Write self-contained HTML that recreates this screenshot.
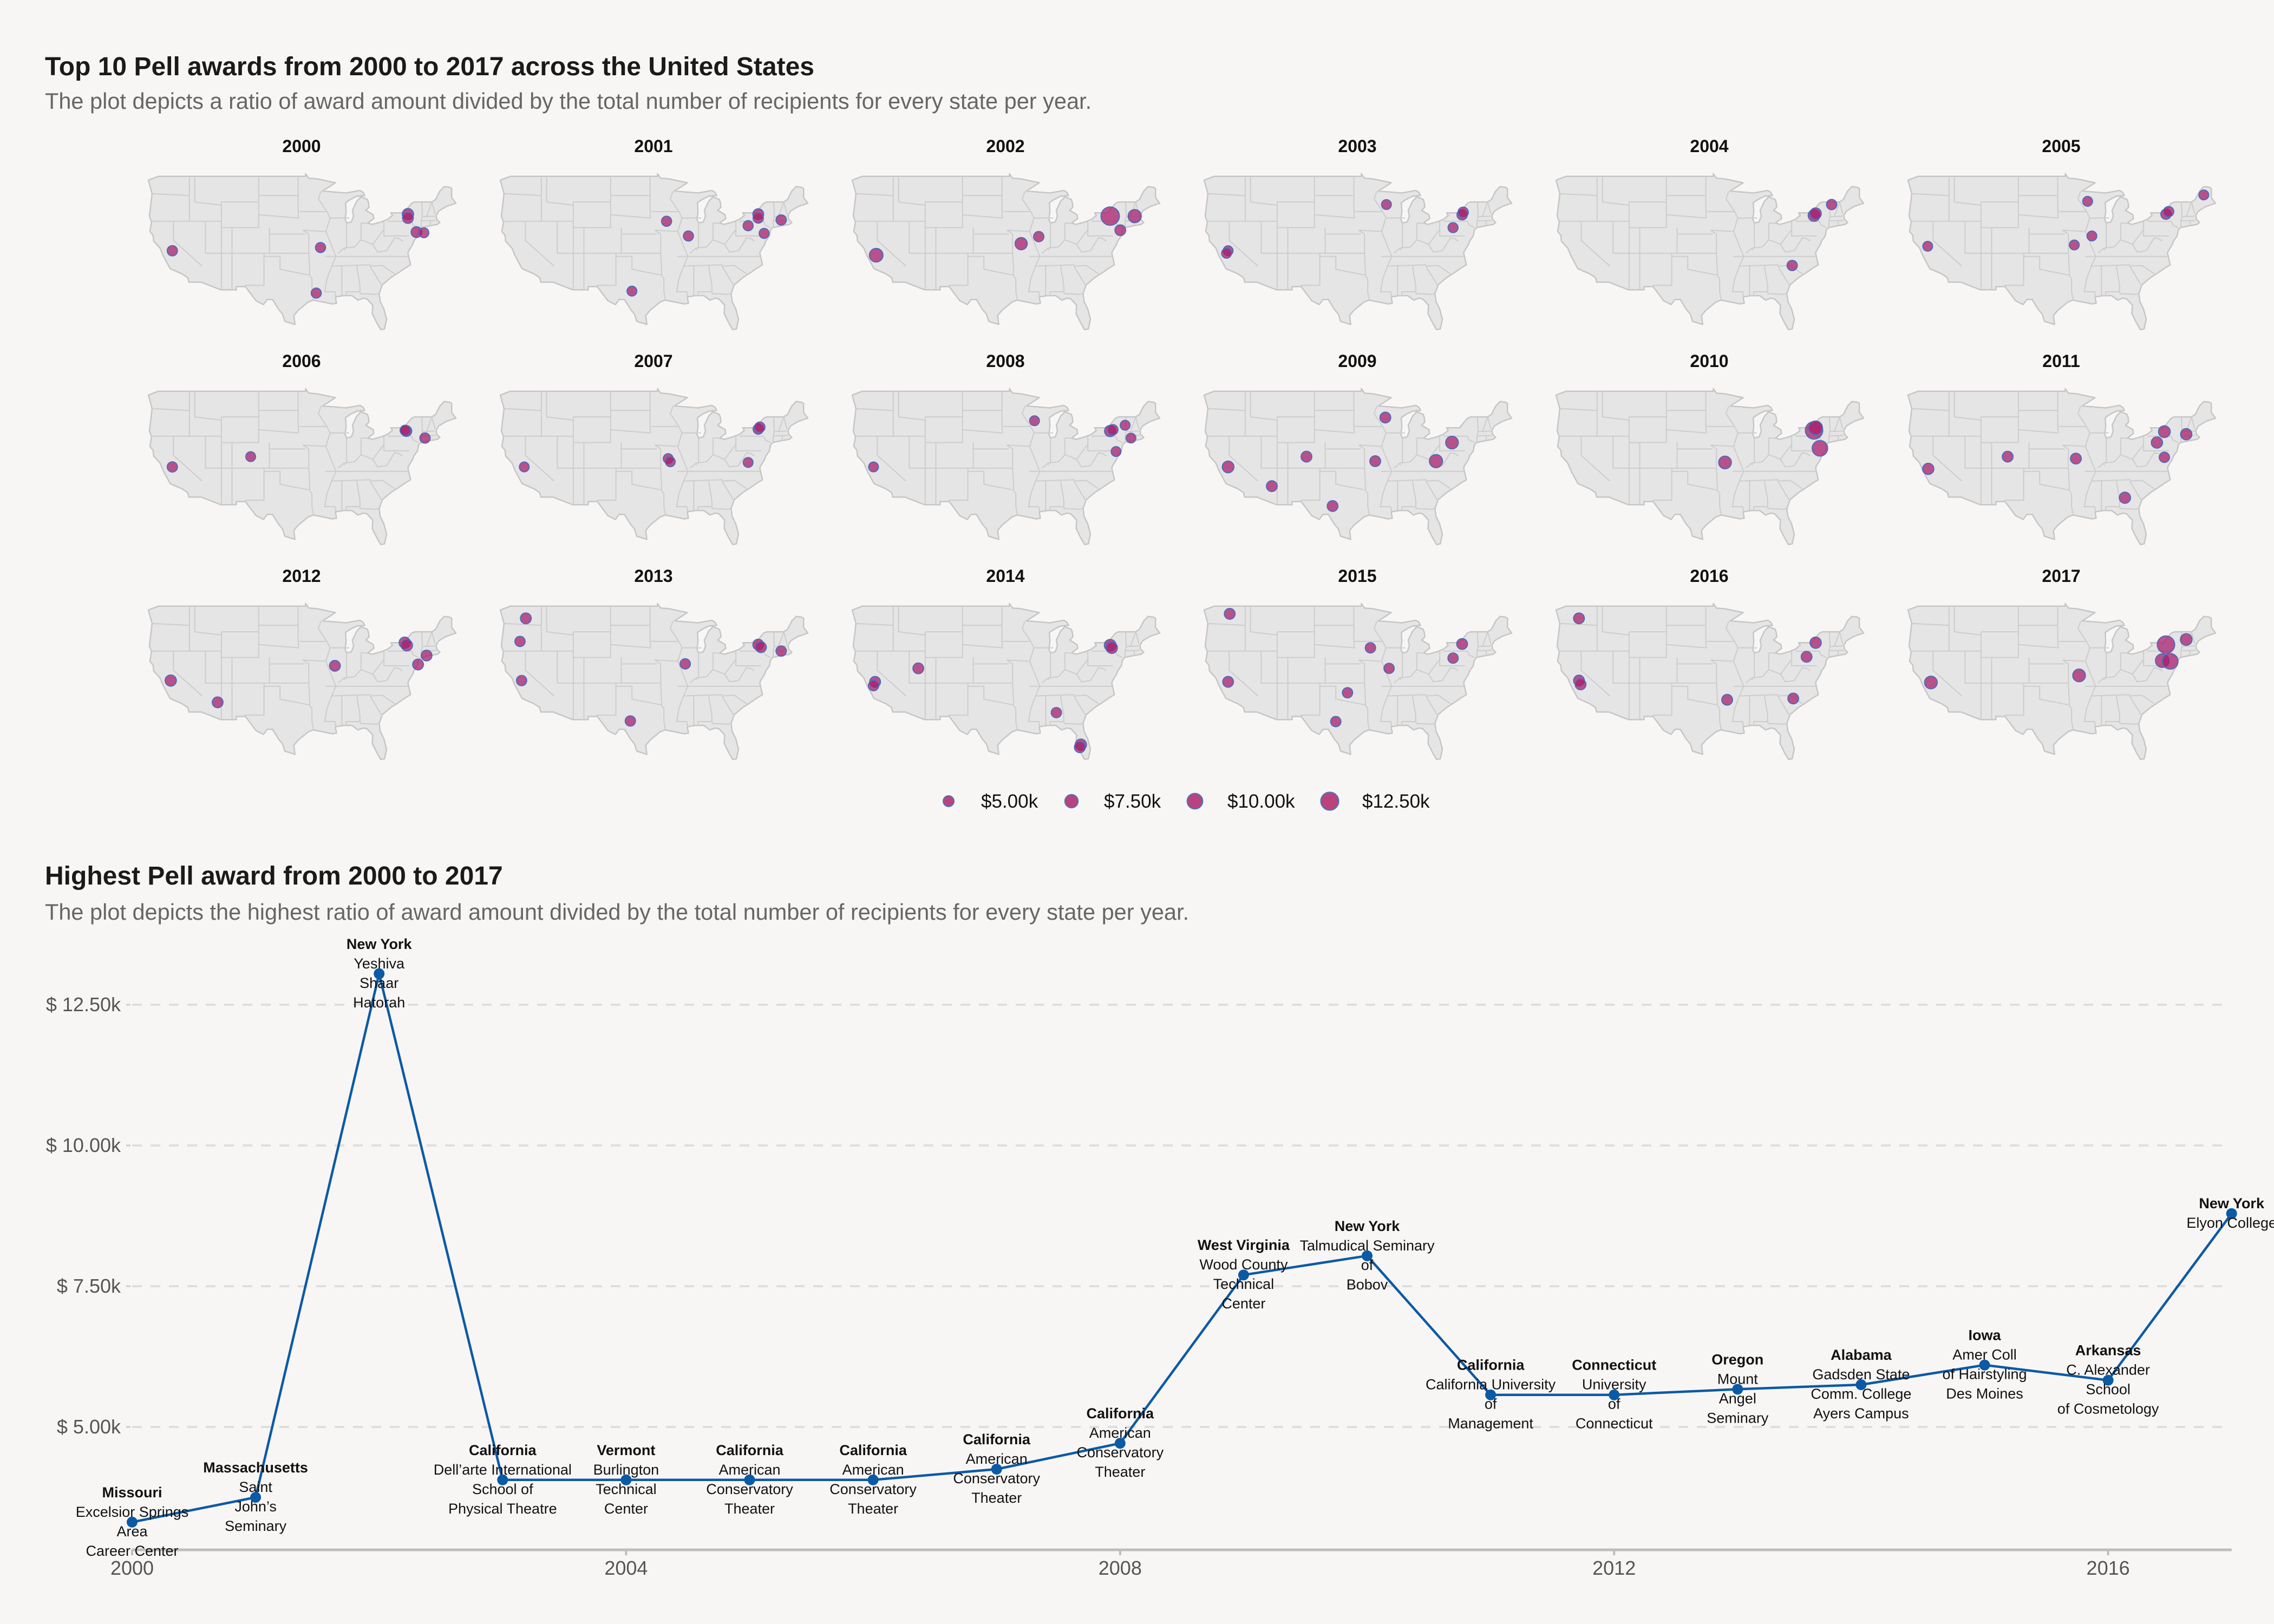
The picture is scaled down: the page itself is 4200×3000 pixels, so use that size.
<!DOCTYPE html>
<html><head><meta charset="utf-8"><style>
html,body{margin:0;padding:0;background:#f8f6f5;}
svg{display:block;font-family:"Liberation Sans",Arial,sans-serif;}
</style></head><body>
<svg id="root" width="4200" height="3000" viewBox="0 0 4200 3000" xmlns="http://www.w3.org/2000/svg">
<rect x="0" y="0" width="4200" height="3000" fill="#f8f6f5"/>
<text x="83" y="139" font-size="48" font-weight="bold" fill="#1a1a1a">Top 10 Pell awards from 2000 to 2017 across the United States</text>
<text x="83" y="201" font-size="41.5" fill="#666">The plot depicts a ratio of award amount divided by the total number of recipients for every state per year.</text>
<g id="maps"></g>
<g id="legend"></g>
<text x="83" y="1634" font-size="48" font-weight="bold" fill="#1a1a1a">Highest Pell award from 2000 to 2017</text>
<text x="83" y="1699" font-size="41.5" fill="#666">The plot depicts the highest ratio of award amount divided by the total number of recipients for every state per year.</text>
<g id="line"></g>
</svg>
<script>
// ---- line chart data ----
const years = [2000,2001,2002,2003,2004,2005,2006,2007,2008,2009,2010,2011,2012,2013,2014,2015,2016,2017];
const awardValues = [3310,3750,13050,4060,4060,4060,4060,4250,4710,7700,8040,5570,5570,5670,5750,6100,5830,8790];
const stateNames = ["Missouri","Massachusetts","New York","California","Vermont","California","California","California","California","West Virginia","New York","California","Connecticut","Oregon","Alabama","Iowa","Arkansas","New York"];
const schoolNames = ["Excelsior Springs|Area|Career Center","Saint|John’s|Seminary","Yeshiva|Shaar|Hatorah","Dell’arte International|School of|Physical Theatre","Burlington|Technical|Center","American|Conservatory|Theater","American|Conservatory|Theater","American|Conservatory|Theater","American|Conservatory|Theater","Wood County|Technical|Center","Talmudical Seminary|of|Bobov","California University|of|Management","University|of|Connecticut","Mount|Angel|Seminary","Gadsden State|Comm. College|Ayers Campus","Amer Coll|of Hairstyling|Des Moines","C. Alexander|School|of Cosmetology","Elyon College"];
const yTicks = [5000,7500,10000,12500];
const yTickLabels = ["$ 5.00k","$ 7.50k","$ 10.00k","$ 12.50k"];
const xTicks = [2000,2004,2008,2012,2016];

// ---- map data ----
const mapYears = [2000,2001,2002,2003,2004,2005,2006,2007,2008,2009,2010,2011,2012,2013,2014,2015,2016,2017];
const dotYear = [2000,2000,2000,2000,2000,2000,2000, 2001,2001,2001,2001,2001,2001,2001,2001, 2002,2002,2002,2002,2002,2002, 2003,2003,2003,2003,2003,2003, 2004,2004,2004,2004, 2005,2005,2005,2005,2005,2005,2005, 2006,2006,2006,2006,2006, 2007,2007,2007,2007,2007,2007, 2008,2008,2008,2008,2008,2008,2008, 2009,2009,2009,2009,2009,2009,2009,2009, 2010,2010,2010,2010, 2011,2011,2011,2011,2011,2011,2011,2011, 2012,2012,2012,2012,2012,2012,2012, 2013,2013,2013,2013,2013,2013,2013,2013, 2014,2014,2014,2014,2014,2014,2014,2014, 2015,2015,2015,2015,2015,2015,2015,2015, 2016,2016,2016,2016,2016,2016,2016, 2017,2017,2017,2017,2017,2017];
const dotLon = [-120.2,-92.4,-93.2,-76,-76,-74.4,-73, -93.5,-89.4,-100,-78.2,-76.3,-76.3,-75.2,-72, -120.2,-93,-89.7,-76.3,-74.4,-71.7, -120.2,-120.5,-90.5,-78,-76.3,-76.1, -76.3,-76.0,-73,-80.4, -121,-91,-93.5,-90.2,-76.3,-75.8,-69.2, -120.2,-105.5,-76.3,-76.5,-72.8, -120.2,-93.2,-92.8,-78.2,-76.3,-76.0, -120.7,-90.5,-76.3,-75.8,-73.5,-72.4,-75.2, -120.2,-112,-105.5,-92.6,-100.6,-90.7,-81.2,-78.2, -93,-76.3,-75.2,-76.0, -120.9,-106,-93.2,-84,-78,-76.6,-76.6,-72.5, -120.5,-111.7,-89.7,-76.6,-76.2,-74.1,-72.5, -119.9,-121,-120.7,-100.3,-90,-76.3,-75.8,-72, -120.4,-120.7,-112.3,-76.3,-76.0,-86.4,-81.8,-82.0, -119.9,-120.2,-93.5,-90,-97.8,-100,-78,-76.3, -120.4,-120.4,-120.1,-92.6,-80.2,-77.7,-76, -120.4,-92.6,-76.3,-77.0,-75.5,-72.5];
const dotLat = [37.4,37.9,30.8,43.1,42.5,40.3,40.2, 42,39.7,31.1,41.3,43.1,42.5,40.1,42.2, 36.7,38.5,39.6,42.8,40.6,42.8, 37.4,37.0,44.6,41,43,43.4, 42.9,43.2,44.6,35.1, 38.1,45.1,38.3,39.7,43.1,43.5,46.1, 37.2,38.8,42.8,42.9,41.7, 37.2,38.5,38.0,37.9,43.1,43.4, 37.2,44.4,42.8,43.0,43.7,41.7,39.6, 37.2,34.2,38.8,38.1,31.1,44.9,38.1,41, 37.9,42.9,40.1,43.3, 36.9,38.8,38.5,32.4,41,42.7,38.7,42.3, 37.4,34,39.7,43.3,42.9,39.9,41.3, 47.1,43.5,37.4,31.1,40,43,42.6,42, 37.2,36.6,39.3,42.9,42.5,32.4,27.4,27.0, 47.8,37.2,42.5,39.3,35.5,31,40.9,43.1, 47.1,37.4,36.8,34.4,34.6,41.1,43.3, 37.1,38.2,43,40.5,40.4,43.8];
const dotVal = [4500,4300,4300,5500,5000,5000,4000, 4300,4300,4000,4300,5000,4500,4200,4500, 8000,6500,4500,13000,5000,7500, 4000,4000,4000,4200,4500,4500, 6000,5500,4500,4500, 4000,4000,4000,4000,4500,4500,4000, 4500,4000,5000,4500,4500, 4000,4000,4000,4000,4500,4500, 4000,4000,5500,4500,4000,4000,4000, 6000,5000,5000,5000,5000,5000,7500,7000, 7000,12000,10000,8000, 5500,5000,5000,5500,5500,6000,4500,5500, 5500,5000,5000,5500,5500,5000,5000, 5000,4500,4500,4500,4500,5000,5000,4500, 5000,4500,5000,6000,5500,4500,5500,5000, 5000,5000,4500,4500,4500,4500,4500,5000, 5000,5000,5000,5000,5000,5000,5500, 7000,7000,12000,8000,10000,6000];
const legendValues = [5000,7500,10000,12500];
const legendLabels = ["$5.00k","$7.50k","$10.00k","$12.50k"];

const NS = "http://www.w3.org/2000/svg";
function mk(tag, attrs, parent){const e=document.createElementNS(NS,tag);for(const k in attrs)e.setAttribute(k,attrs[k]);parent.appendChild(e);return e;}

const outline = [[-124.7,48.4],[-122.8,49],[-95.2,49],[-95.2,49.4],[-94.6,48.7],[-93,48.6],[-89.6,48.0],[-92,46.7],[-90.4,46.6],[-87.6,46.4],[-85,46.8],[-84.4,46.5],[-84.1,46.0],[-85.6,45.9],[-86.8,45.4],[-87.7,44.9],[-87.6,43.5],[-87.8,42.3],[-87.5,41.7],[-86.6,41.9],[-86.2,42.8],[-86.4,43.7],[-85.6,45.1],[-84.8,45.8],[-83.6,45.4],[-83.4,44.9],[-83.3,44.2],[-83.9,43.7],[-82.5,43.0],[-82.4,42.4],[-83.1,42.0],[-83.5,41.7],[-82.7,41.5],[-81,41.9],[-79.8,42.3],[-78.9,42.9],[-79.2,43.3],[-76.8,43.3],[-76.2,43.9],[-75.3,44.8],[-74.7,45.0],[-71.5,45.0],[-70.8,45.4],[-70.0,46.7],[-69.2,47.4],[-68.2,47.3],[-67.8,47.1],[-67.8,45.7],[-67.0,44.8],[-68.8,44.3],[-70.2,43.6],[-70.7,42.9],[-70.6,42.3],[-70.0,41.8],[-70.5,41.5],[-71.9,41.3],[-73.6,41.0],[-74.0,40.6],[-74.2,39.7],[-74.9,38.9],[-75.1,38.4],[-75.9,37.3],[-76.0,37.0],[-75.7,35.9],[-75.5,35.2],[-76.5,34.7],[-77.9,33.9],[-79.2,33.2],[-80.8,32.1],[-81.4,30.7],[-81.2,29.5],[-80.5,28.3],[-80.0,26.7],[-80.4,25.2],[-81.1,25.1],[-81.8,26.1],[-82.7,27.6],[-82.6,28.9],[-83.7,29.9],[-84.4,30.0],[-85.4,29.7],[-86.5,30.4],[-88.1,30.4],[-89.6,30.2],[-89.4,29.2],[-90.2,29.1],[-91.3,29.3],[-93.8,29.7],[-94.7,29.4],[-96.6,28.1],[-97.4,27.3],[-97.2,25.9],[-99.1,26.4],[-99.5,27.5],[-100.3,28.3],[-101.4,29.8],[-102.4,29.8],[-103.1,29.0],[-104.5,29.6],[-106.5,31.8],[-108.2,31.8],[-108.2,31.3],[-111.1,31.3],[-114.8,32.5],[-117.1,32.5],[-117.3,33.2],[-118.4,33.8],[-120.6,34.6],[-121.9,36.6],[-122.5,37.8],[-123.7,38.9],[-123.8,39.8],[-124.4,40.4],[-124.1,41.9],[-124.5,42.8],[-124.0,46.3]];
const stateLines = [
[[-124,46.3],[-117,46]],[[-117,49],[-117,42]],[[-124.2,42],[-111,42],[-111,41],[-104,41],[-104,49]],
[[-120,42],[-120,39],[-114.6,35]],[[-114,42],[-114,37]],[[-114,37],[-94.6,37]],
[[-111,45],[-111,31.3]],[[-109,41],[-109,31.3]],[[-116,49],[-116,45],[-111,44.5]],
[[-111,45],[-104,45]],[[-104,46],[-96.6,46]],[[-96.6,49],[-96.6,43.5],[-96.5,42.5]],
[[-104,43],[-96.5,42.5]],[[-102,41],[-102,37]],[[-102,40],[-95.3,40]],
[[-103,37],[-103,32],[-106.6,32]],[[-103,36.5],[-100,36.5],[-100,34.5],[-94.5,33.6]],
[[-94.6,37],[-94.4,33.5],[-94,33],[-94,31],[-93.7,29.7]],[[-94.6,37],[-94.6,40],[-95.7,40.6]],
[[-91.5,36.5],[-75.9,36.5]],[[-95.7,40.6],[-91.4,40.4],[-90.6,42.5],[-87,42.5]],
[[-96.4,43.5],[-91.2,43.5]],[[-92.3,46.7],[-92.8,45.5],[-91.2,43.5]],
[[-87.5,41.7],[-87.5,38],[-88,37.5]],[[-84.8,41.7],[-84.8,39.1]],
[[-89.1,37],[-88,37.8],[-86,38],[-84.8,39.1],[-82.6,38.4],[-80.6,40.6]],
[[-84.8,41.7],[-83.5,41.7]],[[-80.5,42],[-80.5,39.7],[-75.8,39.7]],
[[-79.8,42],[-75.3,42],[-75,41.4],[-74,41]],
[[-91.2,43.5],[-90.6,42.5],[-91.4,40.4],[-89.5,36.5],[-90.3,35],[-91.2,33],[-91.6,31],[-89.7,31],[-89.5,30.2]],
[[-90.3,35],[-83,35.2]],[[-88.4,35],[-88.4,30.4]],[[-85.6,35],[-85,32],[-85,31]],
[[-87.6,30.3],[-87.6,31],[-85,31],[-84.9,30.7],[-82,30.6],[-81.5,30.7]],
[[-83.1,35],[-81,32.1]],[[-83.1,35],[-80.8,35.1],[-78.5,33.8]],
[[-82.6,38.4],[-81.7,37.2],[-80,37.4],[-78.5,39.4],[-77.7,39.3],[-77,38.9]],
[[-73.4,45],[-73.3,42.7],[-73.5,42],[-73.5,41]],[[-73.5,42.05],[-70.8,42.1]],[[-71.8,42],[-71.8,41.3]],
[[-72.5,42.7],[-71.5,45]],[[-71.5,45],[-70.9,43.1]],[[-73.3,42.7],[-70.9,42.8]]
];

const MW = 571, MH = 295;
function px(lon, ox){return ox + (lon+124.8)/58*MW;}
function py(lat, oy){return oy + (49.4-lat)/24.9*MH;}
function rOf(v){return 10 + (v-5000)*0.00088;}

const maps = document.getElementById('maps');
mapYears.forEach((yr,i)=>{
  const col=i%6,row=Math.floor(i/6);
  const ox=273+col*650, oy=321+row*397;
  const g=mk('g',{},maps);
  
  
  const t=mk('text',{x:ox+284,y:oy-40,'font-size':32,'font-weight':'bold','text-anchor':'middle',fill:'#111'},g);
  t.textContent=yr;
  
  
  const d='M'+outline.map(p=>px(p[0],ox).toFixed(1)+','+py(p[1],oy).toFixed(1)).join('L')+'Z';
  const us=mk('path',{d:d,fill:'#e5e5e5',stroke:'#c6c6c6','stroke-width':2.5,'stroke-linejoin':'round'},g);
  
  
  stateLines.forEach(l=>{
    const sl=mk('path',{d:'M'+l.map(p=>px(p[0],ox).toFixed(1)+','+py(p[1],oy).toFixed(1)).join('L'),fill:'none',stroke:'#cdcdcd','stroke-width':2},g);
    
    
  });
  dotYear.forEach((dy,j)=>{
    if(dy!==yr)return;
    const c=mk('circle',{cx:px(dotLon[j],ox),cy:py(dotLat[j],oy),r:rOf(dotVal[j]),fill:'#a81e6c','fill-opacity':0.75,stroke:'#4a6ab8','stroke-width':1.8},g);
    
    
  });
});

const legend=document.getElementById('legend');
const legCx=[1752,1979,2207,2456];
legendValues.forEach((v,i)=>{
  const c=mk('circle',{cx:legCx[i],cy:1480,r:rOf(v),fill:'#b8437e',stroke:'#4a78b8','stroke-width':2},legend);
  
  
  const t=mk('text',{x:legCx[i]+60,y:1492,'font-size':35,fill:'#111'},legend);
  t.textContent=legendLabels[i];
  
  
});

const line=document.getElementById('line');
function X(yr){return 244 + (yr-2000)*228.1;}
function Y(v){return 2636 - (v-5000)*0.104;}
yTicks.forEach((v,i)=>{
  const gl=mk('line',{x1:244,x2:4120,y1:Y(v),y2:Y(v),stroke:'#e0dedd','stroke-width':4,'stroke-dasharray':'18 16'},line);
  
  
  const tk=mk('line',{x1:233,x2:241,y1:Y(v),y2:Y(v),stroke:'#ccc','stroke-width':3},line);
  
  
  const t=mk('text',{x:223,y:Y(v)+12,'font-size':36,'text-anchor':'end',fill:'#555'},line);
  t.textContent=yTickLabels[i];
  
  
});
const ax=mk('line',{x1:244,x2:X(2017),y1:2863,y2:2863,stroke:'#bdbdbd','stroke-width':5},line);


xTicks.forEach(yr=>{
  const tk=mk('line',{x1:X(yr),x2:X(yr),y1:2863,y2:2873,stroke:'#bdbdbd','stroke-width':4},line);
  
  
  const t=mk('text',{x:X(yr),y:2909,'font-size':36,'text-anchor':'middle',fill:'#555'},line);
  t.textContent=yr;
  
  
});
const pl=mk('path',{d:'M'+years.map((yr,i)=>X(yr).toFixed(1)+','+Y(awardValues[i]).toFixed(1)).join('L'),fill:'none',stroke:'#0b5aa6','stroke-width':4.5,'stroke-linejoin':'round'},line);


years.forEach((yr,i)=>{
  const c=mk('circle',{cx:X(yr),cy:Y(awardValues[i]),r:10,fill:'#0b5aa6'},line);
  
  
});
years.forEach((yr,i)=>{
  const lines=[stateNames[i]].concat(schoolNames[i].split('|'));
  const N=lines.length, cy=Y(awardValues[i]);
  const g=mk('g',{},line);
  
  
  lines.forEach((s,k)=>{
    const t=mk('text',{x:X(yr),y:cy+(k-(N-1)/2)*36+8,'font-size':27,'text-anchor':'middle',fill:'#111','font-weight':k===0?'bold':'normal'},g);
    t.textContent=s;
    
    
  });
});
</script>
</body></html>
